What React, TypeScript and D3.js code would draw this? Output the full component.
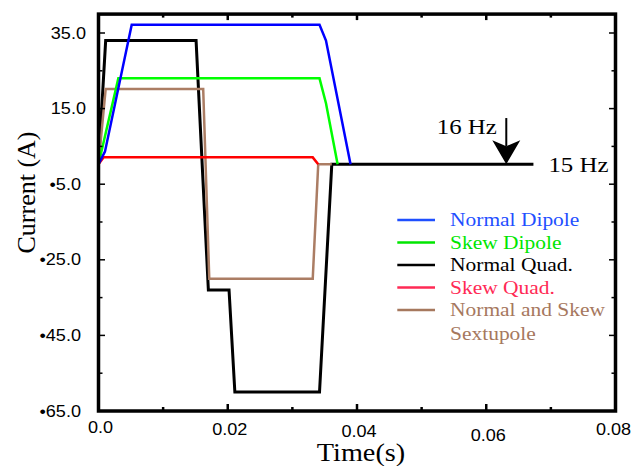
import React, { useEffect } from "react";
import * as d3 from "d3";

// ---- data (time in s, current in A) ----
const normalDipoleT = [0, 0.001, 0.00514, 0.0342, 0.0352, 0.039];
const normalDipoleI = [0.3, 3.6, 37.2, 37.2, 33.0, 0.3];
const skewDipoleT = [0, 0.00307, 0.0342, 0.0352, 0.037];
const skewDipoleI = [0.3, 23.0, 23.0, 16.4, 0.3];
const normalQuadT = [0, 0.00111, 0.0151, 0.017, 0.0202, 0.0211, 0.0342, 0.0361, 0.0673];
const normalQuadI = [0.3, 33.0, 33.0, -33.0, -33.0, -60.0, -60.0, 0.3, 0.3];
const skewQuadT = [0, 0.0008, 0.03315, 0.034];
const skewQuadI = [0.3, 2.1, 2.1, 0.3];
const sextupoleT = [0, 0.00111, 0.0162, 0.01714, 0.03315, 0.034, 0.0361];
const sextupoleI = [0.3, 20.2, 20.2, -30.0, -30.0, 0.3, 0.3];

const yTickValues = [35, 15, -5, -25, -45, -65];
const yTickLabels = ["35.0", "15.0", "•5.0", "•25.0", "•45.0", "•65.0"];
const yMinorValues = [25, 5, -15, -35, -55];
const xTickValues = [0, 0.02, 0.04, 0.06, 0.08];
const xTickLabels = ["0.0", "0.02", "0.04", "0.06", "0.08"];
const xMinorValues = [0.01, 0.03, 0.05, 0.07];

const legendNames = ["Normal Dipole", "Skew Dipole", "Normal Quad.", "Skew Quad.", "Normal and Skew"];
const legendExtra = "Sextupole";

const arrowT = 0.0631;
const arrowTopI = 12.5;
const arrowLabel = "16 Hz";
const endLabel = "15 Hz";

const W = 636;
const H = 466;
const SX = 1.13;

const x = d3.scaleLinear().domain([0, 0.08]).range([98.5, 615.5]);
const y = d3.scaleLinear().domain([-65, 40]).range([411, 14.1]);

type S = { t: number[]; v: number[]; color: string; width: number };
const series: S[] = [
  { t: normalQuadT, v: normalQuadI, color: "#000000", width: 3 },
  { t: sextupoleT, v: sextupoleI, color: "#ab7d64", width: 2.5 },
  { t: skewQuadT, v: skewQuadI, color: "#ff0000", width: 2.5 },
  { t: skewDipoleT, v: skewDipoleI, color: "#00ff00", width: 2.5 },
  { t: normalDipoleT, v: normalDipoleI, color: "#0000ff", width: 2.5 },
];

const legendLine = ["#1f4fff", "#00e600", "#000000", "#ff2a55", "#a6785e"];
const legendText = ["#1f4fff", "#00e600", "#000000", "#ff2a55", "#a6785e"];

const line = d3
  .line<[number, number]>()
  .x((d) => x(d[0]))
  .y((d) => y(d[1]));

const serif = "'Liberation Serif', 'Times New Roman', serif";
const sans = "'Liberation Sans', Arial, Helvetica, sans-serif";

function T(props: {
  x: number;
  y: number;
  size: number;
  family: string;
  anchor?: string;
  fill?: string;
  children: React.ReactNode;
}) {
  return (
    <text
      transform={`translate(${props.x},${props.y}) scale(${SX},1)`}
      fontSize={props.size}
      fontFamily={props.family}
      textAnchor={props.anchor || "start"}
      fill={props.fill || "#000"}
    >
      {props.children}
    </text>
  );
}

const xLabelDy = [-2.3, 0, 1.5, 5.5, 0];

export default function App() {
  useEffect(() => {
    document.body.style.margin = "0";
    document.body.style.overflow = "hidden";
  }, []);

  const x0 = x(0);
  const x1 = x(0.08);
  const yTop = y(40);
  const yBot = y(-65);
  const ax = x(arrowT);
  const baseY = y(0.3);

  return (
    <svg width={W} height={H} style={{ position: "absolute", left: 0, top: 0, background: "#fff" }}>
      {/* curves */}
      {series.map((s, i) => (
        <path
          key={i}
          d={line(s.t.map((t, k) => [t, s.v[k]] as [number, number])) || ""}
          fill="none"
          stroke={s.color}
          strokeWidth={s.width}
          strokeLinejoin="miter"
        />
      ))}

      {/* frame */}
      <rect x={x0} y={yTop} width={x1 - x0} height={yBot - yTop} fill="none" stroke="#000" strokeWidth={3.5} />

      {/* left & right ticks */}
      {yTickValues.map((v, i) => (
        <g key={"yt" + i}>
          <line x1={x0} x2={x0 + 6.5} y1={y(v)} y2={y(v)} stroke="#000" strokeWidth={1.5} />
          <line x1={x1} x2={x1 - 6.5} y1={y(v)} y2={y(v)} stroke="#000" strokeWidth={1.5} />
          <T x={v >= 0 ? 86 : 81} y={y(v) + 5.6} size={16} family={sans} anchor="end">
            {yTickLabels[i]}
          </T>
        </g>
      ))}
      {yMinorValues.map((v, i) => (
        <g key={"ym" + i}>
          <line x1={x0} x2={x0 + 4} y1={y(v)} y2={y(v)} stroke="#000" strokeWidth={1.5} />
          <line x1={x1} x2={x1 - 4} y1={y(v)} y2={y(v)} stroke="#000" strokeWidth={1.5} />
        </g>
      ))}

      {/* bottom & top ticks */}
      {xTickValues.map((v, i) => (
        <g key={"xt" + i}>
          <line x1={x(v)} x2={x(v)} y1={yBot} y2={yBot - 7} stroke="#000" strokeWidth={2.5} />
          <line x1={x(v)} x2={x(v)} y1={yTop} y2={yTop + 6} stroke="#000" strokeWidth={2.5} />
          <T x={x(v) + (i === 4 ? -2 : 2)} y={435 + xLabelDy[i]} size={16} family={sans} anchor="middle">
            {xTickLabels[i]}
          </T>
        </g>
      ))}
      {xMinorValues.map((v, i) => (
        <g key={"xm" + i}>
          <line x1={x(v)} x2={x(v)} y1={yBot} y2={yBot - 4} stroke="#000" strokeWidth={2.5} />
          <line x1={x(v)} x2={x(v)} y1={yTop} y2={yTop + 3.5} stroke="#000" strokeWidth={2.5} />
        </g>
      ))}

      {/* axis titles */}
      <text
        transform={`translate(35,192.5) rotate(-90)`}
        fontSize={26}
        fontFamily={serif}
        textAnchor="middle"
        fill="#000"
      >
        Current (A)
      </text>
      <T x={361} y={461} size={25} family={serif} anchor="middle">
        Time(s)
      </T>

      {/* annotation */}
      <line x1={ax} x2={ax} y1={y(arrowTopI)} y2={baseY - 18} stroke="#000" strokeWidth={2} />
      <path
        d={`M${ax - 14},${baseY - 24} L${ax},${baseY - 18} L${ax + 14},${baseY - 24} L${ax},${baseY} Z`}
        fill="#000"
      />
      <T x={ax - 9.5} y={134.3} size={22} family={serif} anchor="end">
        {arrowLabel}
      </T>
      <T x={x(0.0673) + 15} y={baseY + 8} size={22} family={serif}>
        {endLabel}
      </T>

      {/* legend */}
      {legendNames.map((n, i) => {
        const ry = 220 + i * 22.5;
        return (
          <g key={"lg" + i}>
            <line x1={397.3} x2={435} y1={ry} y2={ry} stroke={legendLine[i]} strokeWidth={2.5} />
            <T x={450} y={ry + 6.3} size={19} family={serif} fill={legendText[i]}>
              {n}
            </T>
          </g>
        );
      })}
      <T x={450} y={220 + 4 * 22.5 + 6.3 + 23.5} size={19} family={serif} fill={legendText[4]}>
        {legendExtra}
      </T>
    </svg>
  );
}
